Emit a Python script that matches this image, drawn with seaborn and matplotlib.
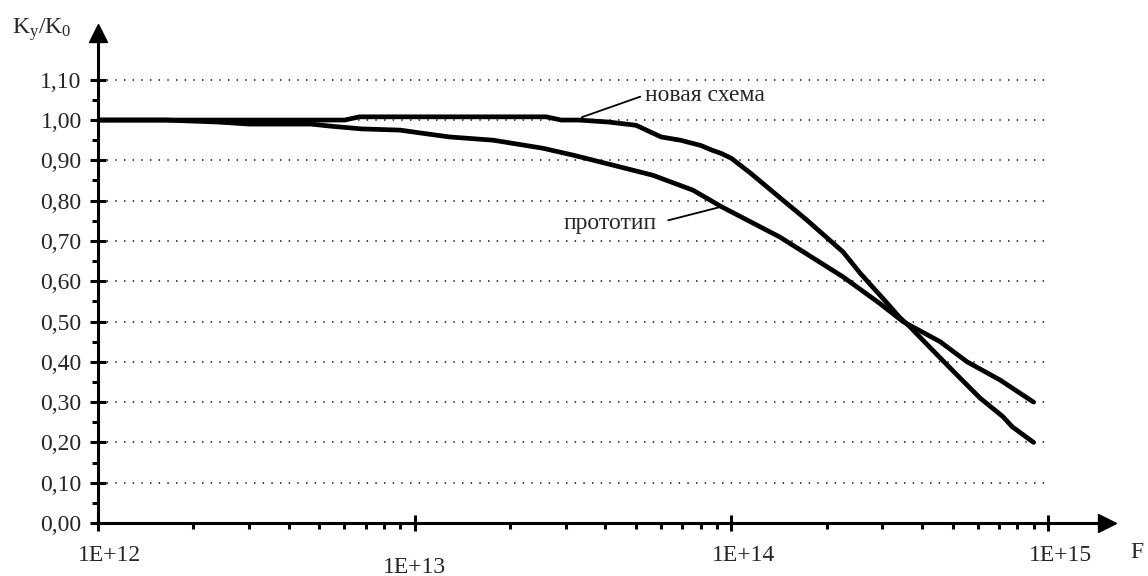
import numpy as np
import matplotlib
matplotlib.use("Agg")
import matplotlib.pyplot as plt
import matplotlib.ticker as mticker
import matplotlib.transforms as mtrans
import seaborn as sns

# Ky/K0 versus frequency F, new scheme vs prototype
freq_new = [1.0e12, 6.0e12, 6.7e12, 2.6e13, 2.9e13, 3.3e13, 4.1e13, 5.0e13, 6.0e13,
            6.9e13, 8.0e13, 8.7e13, 9.3e13, 1.0e14, 1.15e14, 1.39e14, 1.73e14,
            2.25e14, 2.55e14, 3.1e14, 3.4e14, 3.66e14, 4.56e14, 5.27e14, 6.1e14,
            7.2e14, 7.7e14, 9.0e14]
k_new = [1.00, 1.00, 1.008, 1.008, 1.00, 1.00, 0.995, 0.987, 0.958,
         0.95, 0.937, 0.925, 0.917, 0.905, 0.868, 0.814, 0.752,
         0.673, 0.62, 0.546, 0.51, 0.487, 0.41, 0.36, 0.31,
         0.264, 0.239, 0.20]

freq_proto = [1.0e12, 1.63e12, 2.4e12, 3.0e12, 4.7e12, 5.4e12, 6.8e12, 9.0e12,
              1.04e13, 1.29e13, 1.77e13, 2.54e13, 3.16e13, 4.23e13, 5.65e13,
              7.56e13, 9.3e13, 1.29e14, 1.42e14, 2.25e14, 2.94e14, 3.48e14,
              4.56e14, 5.55e14, 7.05e14, 9.0e14]
k_proto = [1.00, 1.00, 0.995, 0.99, 0.99, 0.985, 0.978, 0.975,
           0.968, 0.958, 0.95, 0.93, 0.913, 0.888, 0.863,
           0.826, 0.785, 0.727, 0.71, 0.611, 0.545, 0.50,
           0.45, 0.40, 0.355, 0.30]

x_ticks = [1e12, 1e13, 1e14, 1e15]
x_labels = ["1E+12", "1E+13", "1E+14", "1E+15"]
y_ticks = [round(0.1 * i, 2) for i in range(12)]
y_labels = [f"{v:.2f}".replace(".", ",") for v in y_ticks]

sns.set_style("white")
plt.rcParams["font.family"] = ["Liberation Serif", "DejaVu Serif"]
plt.rcParams["mathtext.fontset"] = "custom"
plt.rcParams["mathtext.rm"] = "Liberation Serif"
plt.rcParams["mathtext.it"] = "Liberation Serif"
fs = 17

fig = plt.figure(figsize=(11.48, 5.76), dpi=100)
ax = fig.add_axes([0.0854, 0.092, 0.8789, 0.8507])
ax.set_xscale("log")
ax.set_xlim(1e12, 1.535e15)
ax.set_ylim(0, 1.216)

# dotted grid only up to 1E+15
ax.hlines(y_ticks[1:], 1e12, 1e15, colors="#333333", linewidth=1.3,
          linestyles=(0, (0.8, 4.0)), zorder=1)

sns.lineplot(x=freq_new, y=k_new, ax=ax, color="black", linewidth=3.4,
             estimator=None, sort=False, zorder=3)
sns.lineplot(x=freq_proto, y=k_proto, ax=ax, color="black", linewidth=3.4,
             estimator=None, sort=False, zorder=3)
for ln in ax.get_lines():
    ln.set_solid_joinstyle("round")
    ln.set_solid_capstyle("round")

ax.annotate("новая схема", xy=(3.37e13, 1.007), xytext=(5.33e13, 1.062),
            ha="left", va="center", fontsize=fs,
            arrowprops=dict(arrowstyle="-", color="black", lw=1.3,
                            relpos=(0, 0.5), shrinkA=1, shrinkB=0))
ax.annotate("прототип", xy=(9.2e13, 0.784), xytext=(5.82e13, 0.744),
            ha="right", va="center", fontsize=fs,
            arrowprops=dict(arrowstyle="-", color="black", lw=1.3,
                            relpos=(1, 0.5), shrinkA=6, shrinkB=0))

# axes, ticks, arrows
for s in ["top", "right"]:
    ax.spines[s].set_visible(False)
for s in ["left", "bottom"]:
    ax.spines[s].set_linewidth(2.2)
    ax.spines[s].set_color("black")

ax.set_xticks(x_ticks)
ax.set_xticklabels(x_labels)
ax.xaxis.set_minor_locator(mticker.LogLocator(base=10, subs=range(2, 10), numticks=20))
ax.xaxis.set_minor_formatter(mticker.NullFormatter())
ax.set_yticks(y_ticks)
ax.set_yticklabels(y_labels)
ax.yaxis.set_minor_locator(mticker.FixedLocator([0.05 + 0.1 * i for i in range(11)]))

ax.tick_params(axis="both", which="both", bottom=True, left=True)
ax.tick_params(axis="both", which="major", direction="inout", length=11.5,
               width=2.2, color="black", labelsize=fs)
ax.tick_params(axis="both", which="minor", direction="out", length=4.5,
               width=2.2, color="black")
ax.tick_params(axis="y", which="major", pad=6)
ax.tick_params(axis="x", which="major", pad=10)

for lab in ax.get_xticklabels():
    if lab.get_text() == "1E+13":
        off = mtrans.ScaledTranslation(0, -8.5 / 72, fig.dpi_scale_trans)
    else:
        off = mtrans.ScaledTranslation(8.6 / 72, 0, fig.dpi_scale_trans)
    lab.set_transform(lab.get_transform() + off)

ax.plot(1, 0, marker=">", ms=13, color="black", transform=ax.transAxes, clip_on=False)
ax.plot(0, 1, marker="^", ms=13, color="black", transform=ax.transAxes, clip_on=False)

fig.text(12 / 1148, 1 - 30 / 576, r"$\mathrm{K_y/K_0}$", fontsize=fs,
         ha="left", va="center")
fig.text(1137 / 1148, 1 - 552 / 576, "F", fontsize=fs, ha="center", va="center")

fig.savefig("out.png", dpi=100)
